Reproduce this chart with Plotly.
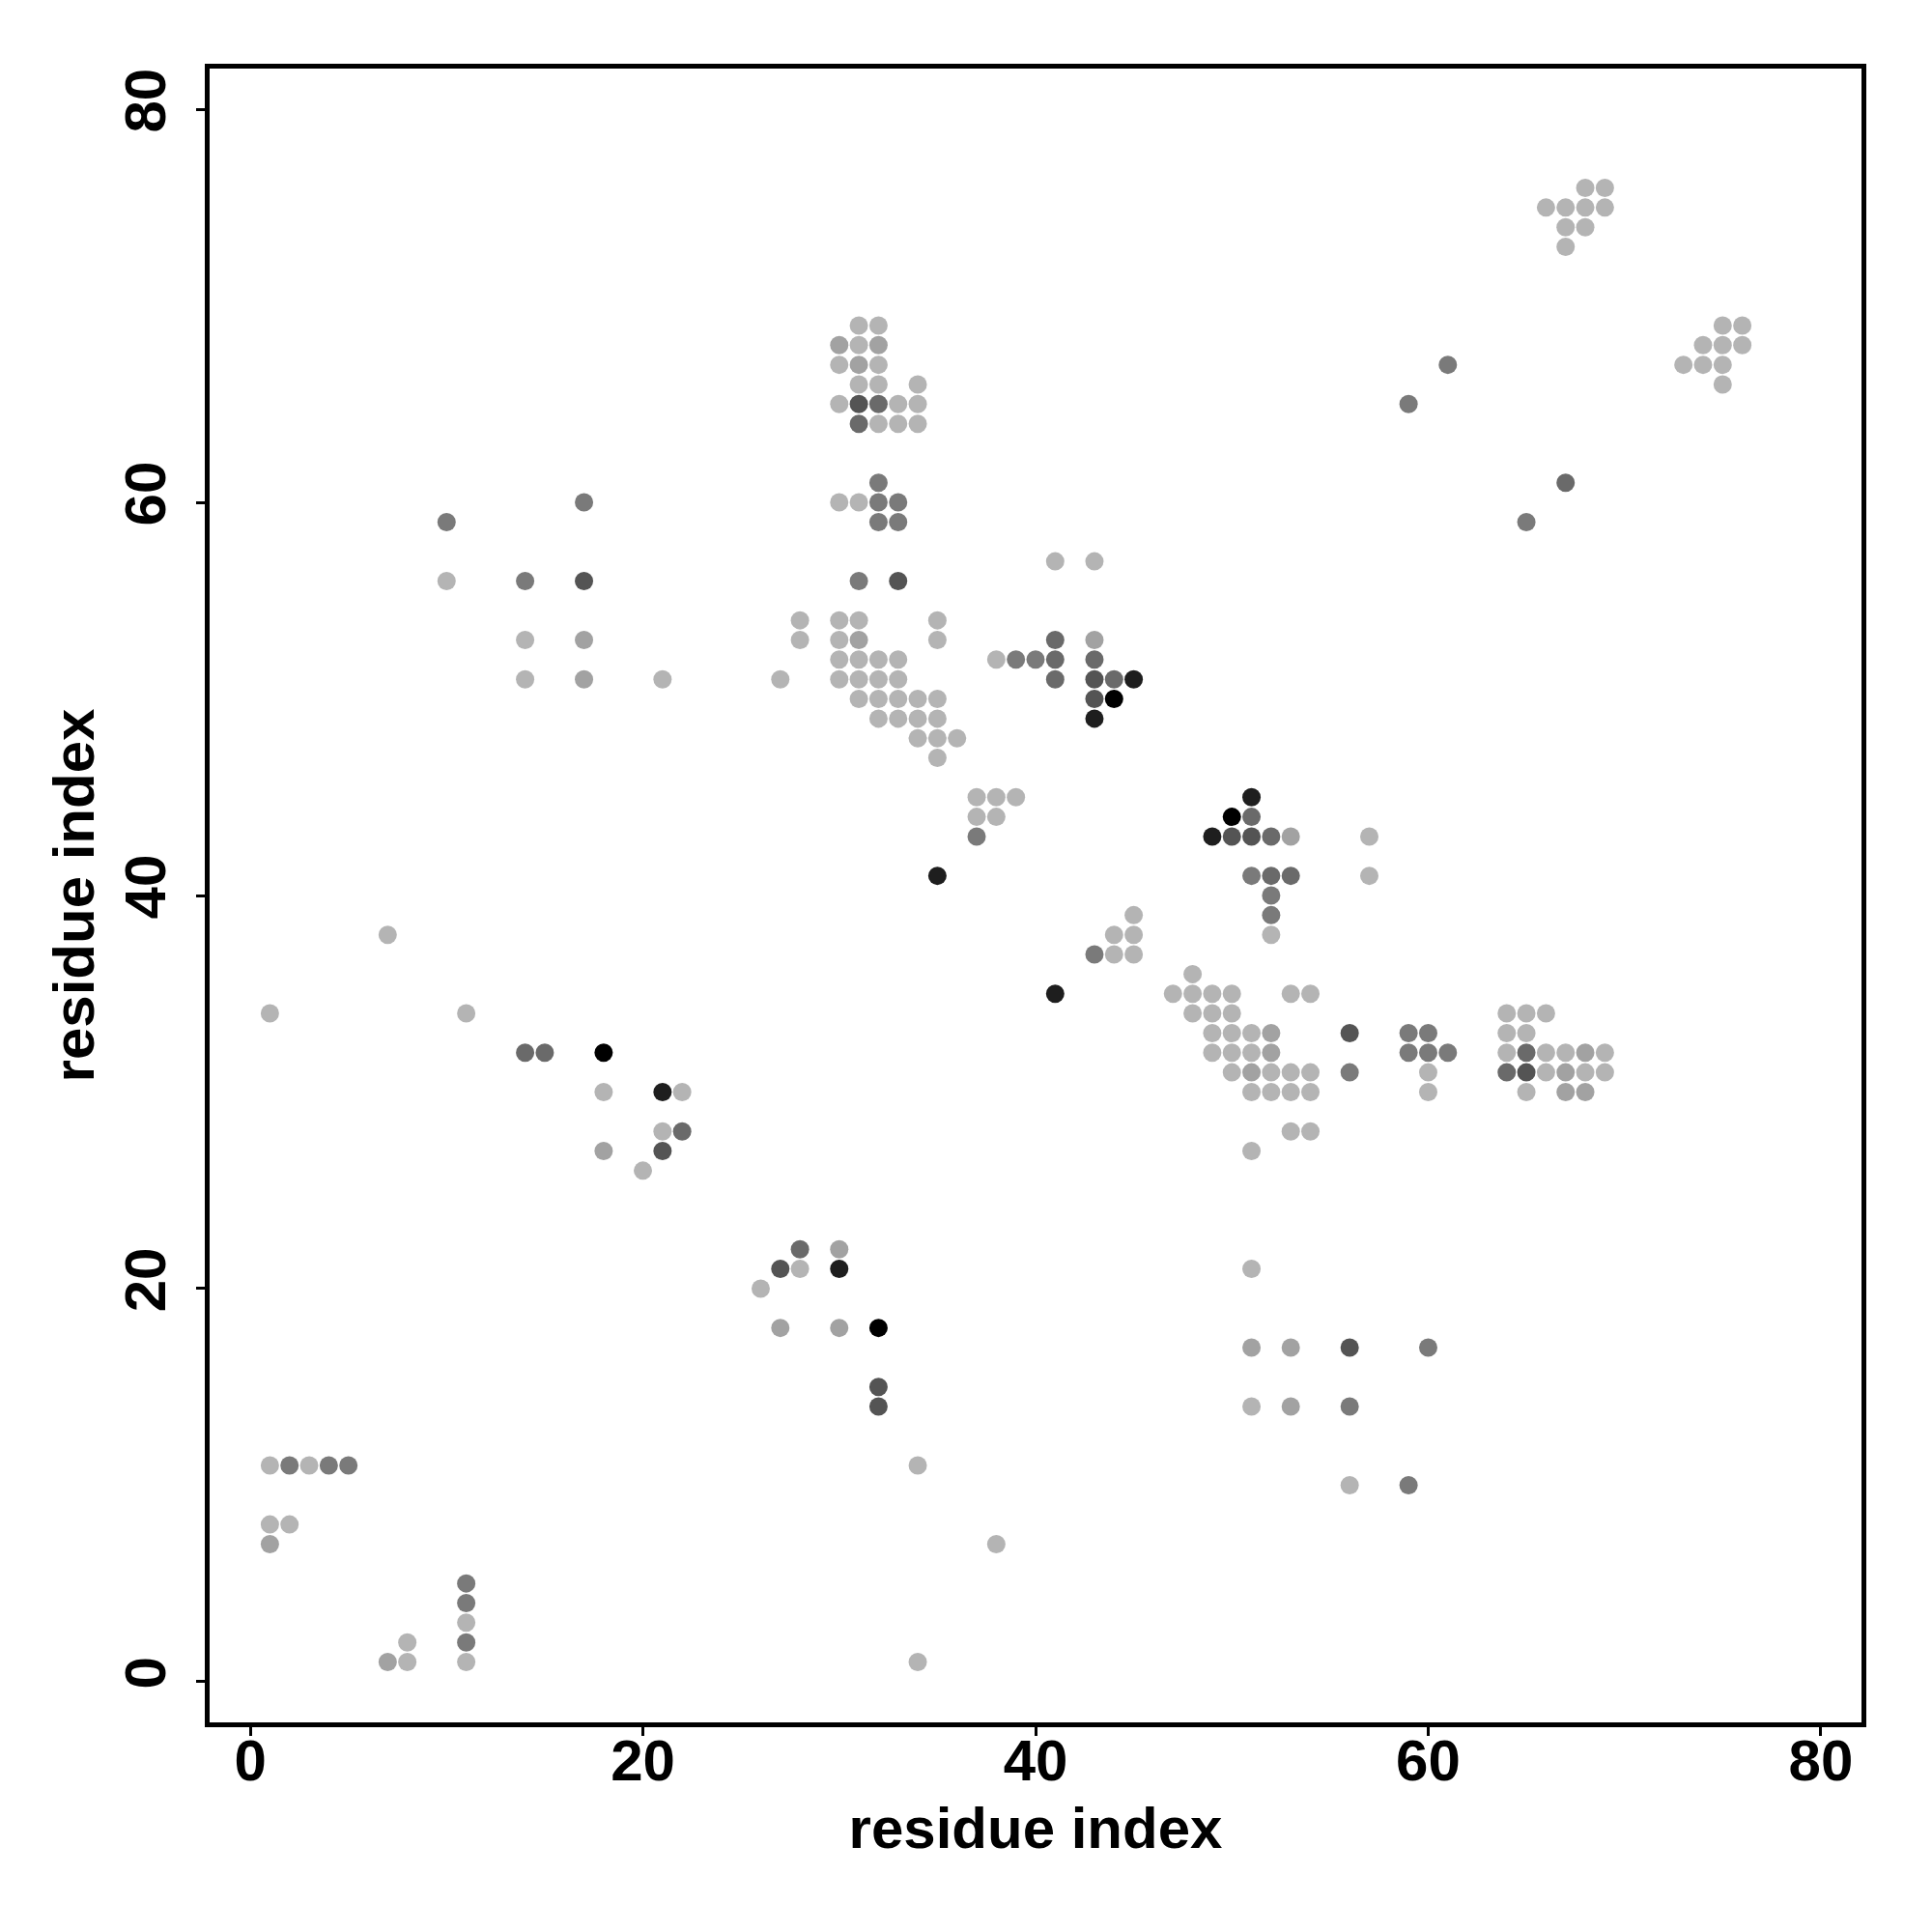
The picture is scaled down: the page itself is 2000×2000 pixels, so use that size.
import plotly.graph_objects as go

# contact map: residue i, residue j, contact strength level (1 = weak ... 7 = strongest)
res_i = [
    1, 2, 3, 4, 5, 1, 2, 1, 7, 8, 8, 11, 11, 11, 11, 11, 34, 38, 34,
    1, 7, 11, 14, 15, 18, 18, 18, 21, 22, 21, 22, 21, 20,
    26, 27, 28, 28, 27, 30, 30, 30, 32, 32, 32,
    51, 51, 53, 56, 60, 51, 53, 56, 56, 59,
    48, 47, 48, 49, 50, 53, 54, 48, 49, 50, 49, 50, 51, 52, 49, 50, 51, 52,
    50, 51, 52, 53, 54, 51, 52, 53, 54, 53, 54, 51,
    41, 56, 56, 59, 60, 59, 60, 61, 60, 60,
    64, 65, 66, 64, 65, 64, 65, 66, 67, 68, 69, 64, 65, 66, 67, 68, 69, 65, 67, 68,
    43, 44, 45, 44, 45, 45, 37, 38, 39, 37, 38, 37, 35,
    51, 50, 51, 49, 50, 51, 52, 53, 51, 52, 53, 52, 52, 52, 57, 57,
    31, 33, 41, 43, 28, 30, 31, 35, 28, 30, 31, 35, 41, 43,
    30, 31, 32, 33, 38, 39, 40, 41, 43,
    27, 30, 31, 32, 33, 41, 43, 44, 45,
    31, 32, 33, 34, 35, 43, 44, 32, 33, 34, 35, 43, 34, 35, 36, 35,
    10, 17, 10, 14, 17, 14, 17, 14, 17, 21,
    31, 32, 30, 31, 32, 30, 31, 32, 31, 32, 34, 30, 31, 32, 33, 34, 31, 32, 33, 34,
    32, 30, 31, 32, 33, 32, 33,
    68, 69, 66, 67, 68, 69, 67, 68, 67, 75, 76, 74, 75, 76, 73, 74, 75, 75,
    61, 59, 67, 65,
]
res_j = [
    11, 11, 11, 11, 11, 8, 8, 7, 1, 1, 2, 5, 4, 3, 2, 1, 1, 7, 11,
    34, 38, 34, 32, 32, 32, 30, 27, 30, 30, 28, 28, 27, 26,
    20, 21, 22, 21, 18, 22, 21, 18, 18, 15, 14,
    21, 17, 17, 17, 17, 14, 14, 14, 10, 10,
    36, 35, 35, 35, 35, 35, 35, 34, 34, 34, 33, 33, 33, 33, 32, 32, 32, 32,
    31, 31, 31, 31, 31, 30, 30, 30, 30, 28, 28, 27,
    35, 33, 31, 33, 33, 32, 32, 32, 31, 30,
    34, 34, 34, 33, 33, 32, 32, 32, 32, 32, 32, 31, 31, 31, 31, 31, 31, 30, 30, 30,
    37, 37, 37, 38, 38, 39, 45, 45, 45, 44, 44, 43, 41,
    45, 44, 44, 43, 43, 43, 43, 43, 41, 41, 41, 40, 39, 38, 43, 41,
    56, 56, 57, 57, 54, 54, 54, 54, 53, 53, 53, 53, 53, 53,
    52, 52, 52, 52, 52, 52, 52, 52, 52,
    51, 51, 51, 51, 51, 51, 51, 51, 51,
    50, 50, 50, 50, 50, 50, 50, 49, 49, 49, 49, 49, 48, 48, 48, 47,
    59, 60, 56, 56, 56, 53, 53, 51, 51, 51,
    69, 69, 68, 68, 68, 67, 67, 67, 66, 66, 66, 65, 65, 65, 65, 65, 64, 64, 64, 64,
    61, 60, 60, 60, 60, 59, 59,
    76, 76, 75, 75, 75, 75, 74, 74, 73, 69, 69, 68, 68, 68, 67, 67, 67, 66,
    67, 65, 61, 59,
]
strength = [
    1, 3, 1, 3, 3, 1, 1, 2, 2, 1, 1, 3, 3, 1, 3, 1, 1, 1, 1,
    1, 1, 1, 4, 4, 7, 1, 2, 6, 1, 1, 4, 5, 1,
    1, 5, 4, 1, 2, 2, 6, 2, 7, 5, 5,
    1, 2, 2, 5, 3, 1, 2, 3, 1, 3,
    1, 1, 1, 1, 1, 1, 1, 1, 1, 1, 1, 1, 1, 2, 1, 1, 1, 2,
    1, 2, 1, 1, 1, 1, 1, 1, 1, 1, 1, 1,
    6, 5, 3, 3, 3, 3, 3, 3, 1, 1,
    1, 1, 1, 1, 1, 1, 4, 1, 1, 2, 1, 4, 5, 1, 2, 1, 1, 1, 2, 2,
    3, 1, 1, 1, 1, 1, 1, 1, 1, 1, 1, 3, 6,
    6, 7, 4, 6, 5, 5, 4, 2, 3, 4, 4, 3, 3, 1, 1, 1,
    3, 5, 1, 1, 1, 1, 1, 1, 1, 1, 2, 1, 4, 2,
    1, 1, 1, 1, 1, 3, 3, 4, 4,
    1, 1, 1, 1, 1, 4, 5, 4, 6,
    1, 1, 1, 1, 1, 5, 7, 1, 1, 1, 1, 6, 1, 1, 1, 1,
    3, 3, 1, 3, 5, 1, 2, 1, 2, 1,
    1, 1, 2, 1, 2, 1, 2, 1, 1, 1, 1, 1, 5, 4, 1, 1, 4, 1, 1, 1,
    3, 1, 1, 3, 3, 3, 3,
    1, 1, 1, 1, 1, 1, 1, 1, 1, 1, 1, 1, 1, 1, 1, 1, 1, 1,
    3, 3, 4, 3,
]

tick_vals = [0, 20, 40, 60, 80]
tick_text = ["0", "20", "40", "60", "80"]
axis_title = "residue index"

gray_scale = [
    [0.0, "#b4b4b4"],
    [1 / 6, "#a2a2a2"],
    [2 / 6, "#7a7a7a"],
    [3 / 6, "#6a6a6a"],
    [4 / 6, "#545454"],
    [5 / 6, "#1e1e1e"],
    [1.0, "#000000"],
]

fig = go.Figure(
    go.Scatter(
        x=res_i,
        y=res_j,
        mode="markers",
        marker=dict(
            size=19,
            color=strength,
            colorscale=gray_scale,
            cmin=1,
            cmax=7,
            line=dict(width=0),
        ),
        showlegend=False,
    )
)

font_main = dict(family="Liberation Sans, Arial, sans-serif", size=60, color="black", weight="bold")

axis_common = dict(
    range=[-2.07, 82.07],
    tickvals=tick_vals,
    ticktext=tick_text,
    showgrid=False,
    zeroline=False,
    showline=True,
    mirror=True,
    linecolor="black",
    linewidth=5,
    ticks="outside",
    ticklen=9,
    tickwidth=3,
    tickcolor="black",
    tickfont=font_main,
)

fig.update_layout(
    width=2000,
    height=2000,
    margin=dict(l=209, r=81, t=63, b=225),
    paper_bgcolor="white",
    plot_bgcolor="white",
    xaxis=dict(**axis_common, ticklabelstandoff=-26,
               title=dict(text=axis_title, font=font_main, standoff=17)),
    yaxis=dict(**axis_common, tickangle=-90, ticklabelstandoff=8,
               title=dict(text=axis_title, font=font_main, standoff=2)),
)

fig.write_html("out.html")
